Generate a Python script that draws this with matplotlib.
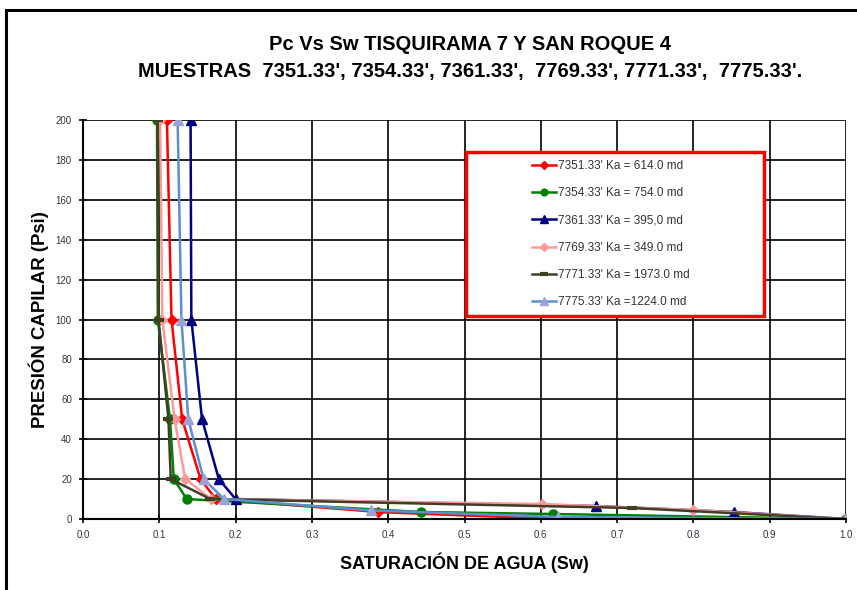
import matplotlib.pyplot as plt
from matplotlib.patches import Rectangle

# Curvas de presion capilar (Pc, psi) vs saturacion de agua (Sw)
pc_7351 = [200, 100, 50, 20, 10, 3.5, 0.5, 0]
sw_7351 = [0.110, 0.116, 0.130, 0.154, 0.174, 0.387, 0.586, 1.0]

pc_7354 = [200, 100, 50, 20, 10, 3.5, 2.5, 0]
sw_7354 = [0.097, 0.098, 0.114, 0.119, 0.136, 0.443, 0.616, 1.0]

pc_7361 = [200, 100, 50, 20, 10, 6.5, 3.5, 0]
sw_7361 = [0.141, 0.142, 0.156, 0.178, 0.200, 0.673, 0.853, 1.0]

pc_7769 = [200, 100, 50, 20, 10, 7.5, 4.5, 0]
sw_7769 = [0.101, 0.104, 0.120, 0.134, 0.168, 0.602, 0.800, 1.0]

pc_7771 = [200, 100, 50, 20, 10, 5.5, 0]
sw_7771 = [0.098, 0.099, 0.112, 0.115, 0.167, 0.720, 1.0]

pc_7775 = [200, 100, 50, 20, 10, 4.3, 1.0, 0]
sw_7775 = [0.124, 0.129, 0.138, 0.158, 0.185, 0.377, 0.623, 1.0]

labels = ["7351.33' Ka = 614.0 md", "7354.33' Ka = 754.0 md", "7361.33' Ka = 395,0 md",
          "7769.33' Ka = 349.0 md", "7771.33' Ka = 1973.0 md", "7775.33' Ka =1224.0 md"]

plt.rcParams['font.family'] = ['Liberation Sans', 'DejaVu Sans']

fig = plt.figure(figsize=(8.57, 5.90), dpi=100)
fig.patch.set_facecolor('white')

# marco exterior
fig.patches.append(Rectangle((0.007, -0.05), 1.1, 1.05 - 10/590, transform=fig.transFigure,
                             fill=False, edgecolor='black', linewidth=2.2))

ax = fig.add_axes([83/857, 1 - 519/590, 763/857, 399/590])

ax.plot(sw_7351, pc_7351, color='#FF0000', marker='D', markersize=5, linewidth=1.8, label=labels[0])
ax.plot(sw_7354, pc_7354, color='#008000', marker='o', markersize=6.5, linewidth=1.8, label=labels[1])
ax.plot(sw_7361, pc_7361, color='#000080', marker='^', markersize=7, linewidth=1.8, label=labels[2])
ax.plot(sw_7769, pc_7769, color='#FF9999', marker='D', markersize=5, linewidth=1.8, label=labels[3])
ax.plot(sw_7771, pc_7771, color='#403F26', marker='_', markersize=7, markeredgewidth=3,
        linewidth=1.8, label=labels[4])
ax.plot(sw_7775, pc_7775, color='#5B8FD0', marker='^', markersize=7, markerfacecolor='#9AA3D6',
        markeredgecolor='#9AA3D6', linewidth=1.8, label=labels[5])

ax.set_xlim(0, 1.0)
ax.set_ylim(0, 200)
ax.set_xticks([i / 10 for i in range(11)])
ax.set_xticklabels([f"{i / 10:.1f}" for i in range(11)])
ax.set_yticks(range(0, 201, 20))
ax.grid(True, color='black', linewidth=1.2)
ax.set_axisbelow(True)
for s in ['top', 'right']:
    ax.spines[s].set_visible(False)
ax.spines['left'].set_linewidth(1.5)
ax.spines['bottom'].set_linewidth(1.5)
ax.tick_params(direction='inout', length=6, width=1.2, labelsize=7, labelcolor='#333344', pad=5)

ax.set_xlabel('SATURACIÓN DE AGUA (Sw)', fontsize=13, fontweight='bold', labelpad=9)
ax.set_ylabel('PRESIÓN CAPILAR (Psi)', fontsize=13.4, fontweight='bold', labelpad=5)

fig.text(470/857, 1 - 45/590, 'Pc Vs Sw TISQUIRAMA 7 Y SAN ROQUE 4', ha='center', va='center',
         fontsize=14.5, fontweight='bold')
fig.text(470/857, 1 - 71/590, "MUESTRAS  7351.33', 7354.33', 7361.33',  7769.33', 7771.33',  7775.33'.",
         ha='center', va='center', fontsize=14.5, fontweight='bold')

# caja de la leyenda
bx0 = (466 - 83) / 763
by0 = (519 - 316) / 399
bw = (764 - 466) / 763
bh = (316 - 152) / 399
ax.add_patch(Rectangle((bx0, by0), bw, bh, transform=ax.transAxes,
                       facecolor='white', edgecolor='#FF0000', linewidth=2.5, zorder=5))
leg = ax.legend(loc='center', bbox_to_anchor=(bx0 + bw / 2 - 0.005, by0 + bh / 2),
                frameon=False, fontsize=8.5, labelspacing=1.3, handlelength=2.0, handletextpad=0.2,
                markerscale=0.75)
leg.set_zorder(6)
for t in leg.get_texts():
    t.set_color('#333333')

plt.savefig('out.png', dpi=100)
